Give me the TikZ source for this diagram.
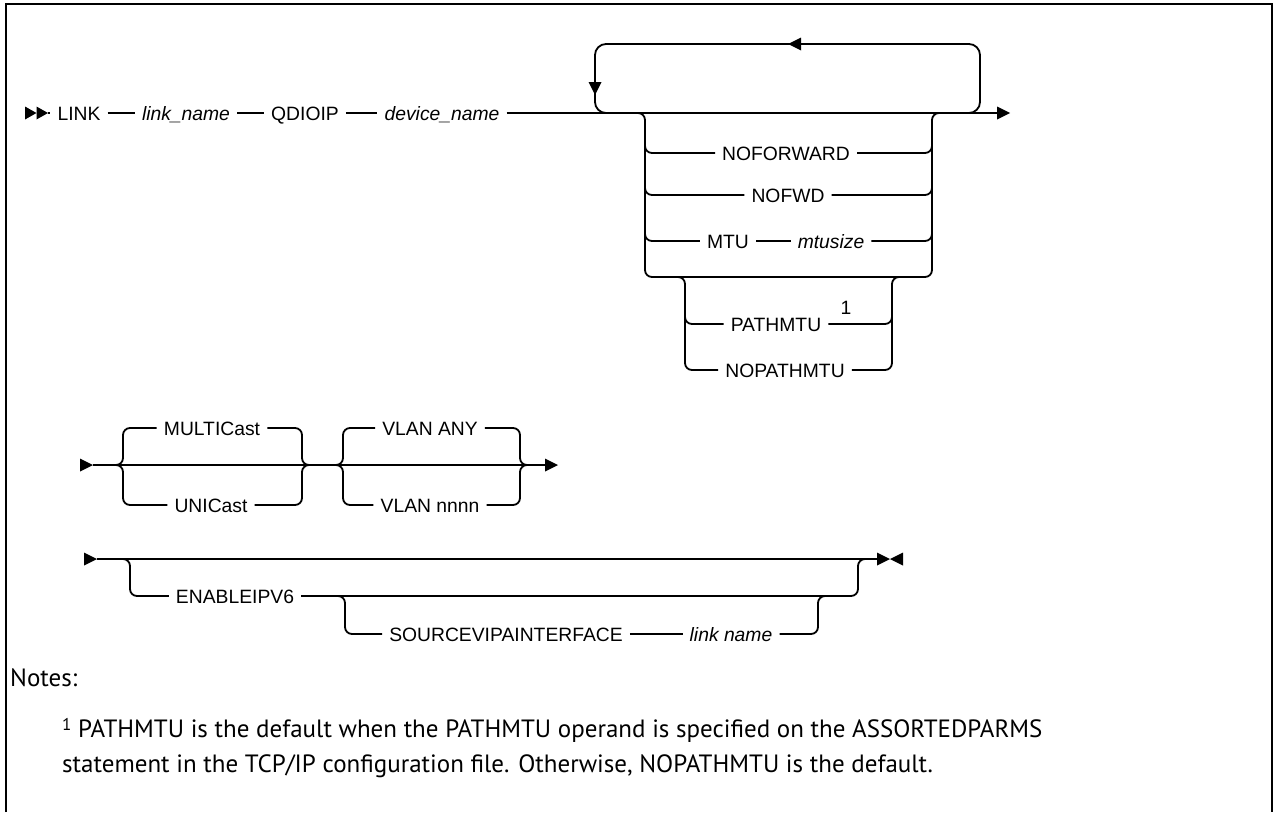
\documentclass[tikz,border=0pt]{standalone}
\usepackage{fontspec}
\setmainfont{Liberation Sans}
\newfontfamily\notefont{PT Sans}
\usetikzlibrary{calc}
\begin{document}
\begin{tikzpicture}[x=1pt,y=-1pt,
  ln/.style={line width=1.8pt},
  rr/.style={line width=1.8pt, rounded corners=7pt},
  kw/.style={font=\fontsize{19.3}{22}\selectfont, inner xsep=7pt, inner ysep=0pt, anchor=base},
  var/.style={kw, font=\fontsize{19.3}{22}\selectfont\itshape},
  notes/.style={font=\notefont\fontsize{25}{30}\selectfont, inner sep=0pt, anchor=base west}]
\useasboundingbox (0,0) rectangle (1274,812);
% frame
\draw[line width=2pt] (6,812) -- (6,4) -- (1272,4) -- (1272,812);

% ---------------- row 1 ----------------
\coordinate (r1) at (0,113);
\coordinate (s1) at (48,113);
\fill (25,106.5) -- (36.5,113) -- (25,119.5) -- cycle;
\fill (36.5,106.5) -- (48,113) -- (36.5,119.5) -- cycle;
\node[kw]  (link)  at (79,120)  {LINK};
\node[var] (lname) at (186,120) {link\_name};
\node[kw]  (qdio)  at (305,120) {QDIOIP};
\node[var] (dname) at (442,120) {device\_name};
\coordinate (e1) at (1010,113);
\draw[ln] (s1) -- (link.west |- r1);
\draw[ln] (link.east |- r1) -- (lname.west |- r1);
\draw[ln] (lname.east |- r1) -- (qdio.west |- r1);
\draw[ln] (qdio.east |- r1) -- (dname.west |- r1);
\draw[ln] (dname.east |- r1) -- (998,113);
\fill (997,106.5) -- (e1) -- (997,119.5) -- cycle;
% repeat loop
\draw[line width=1.8pt, rounded corners=11pt] (615,113) -| (595,44) -| (980,113) -- (960,113);
\fill (788,44) -- (801,37.5) -- (801,50.5) -- cycle;
\fill (595,95) -- (588.5,82) -- (601.5,82) -- cycle;
% bracket 1
\draw[rr] (630,113) -| (645,277) -| (932,113) -- (946,113);
\node[kw]  (nofor) at (786,160) {NOFORWARD};
\node[kw]  (nofwd) at (788,202) {NOFWD};
\node[kw]  (mtu)   at (728,248) {MTU};
\node[var] (msize) at (831,248) {mtusize};
\coordinate (y153) at (0,153);
\coordinate (y195) at (0,195);
\coordinate (y241) at (0,241);
\draw[rr] (645,135) |- (nofor.west |- y153);
\draw[rr] (nofor.east |- y153) -| (932,135);
\draw[rr] (645,175) |- (nofwd.west |- y195);
\draw[rr] (nofwd.east |- y195) -| (932,175);
\draw[rr] (645,220) |- (mtu.west |- y241);
\draw[ln] (mtu.east |- y241) -- (msize.west |- y241);
\draw[rr] (msize.east |- y241) -| (932,220);
% sub bracket
\node[kw] (pmtu)  at (776,331) {PATHMTU};
\node[font=\fontsize{19.3}{22}\selectfont, anchor=base] (fn1) at (846,314) {1};
\node[kw] (npmtu) at (785,377) {NOPATHMTU};
\coordinate (y324) at (0,324);
\coordinate (y370) at (0,370);
\draw[rr] (670,277) -| (685,370) -- (npmtu.west |- y370);
\draw[rr] (npmtu.east |- y370) -| (892,277) -- (906,277);
\draw[rr] (685,300) |- (pmtu.west |- y324);
\draw[rr] (pmtu.east |- y324) -| (892,300);

% ---------------- row 2 ----------------
\coordinate (r2) at (0,465);
\coordinate (s2) at (93,465);
\coordinate (e2) at (558,465);
\fill (80,458.5) -- (s2) -- (80,471.5) -- cycle;
\draw[ln] (s2) -- (546,465);
\fill (545,458.5) -- (e2) -- (545,471.5) -- cycle;
\node[kw] (multi) at (212,435) {MULTICast};
\node[kw] (uni)   at (211,512) {UNICast};
\node[kw] (vany)  at (430,435) {VLAN ANY};
\node[kw] (vnnnn) at (430,512) {VLAN nnnn};
\coordinate (y428) at (0,428);
\coordinate (y505) at (0,505);
\draw[rr] (108,465) -| (123,428) -- (multi.west |- y428);
\draw[rr] (108,465) -| (123,505) -- (uni.west |- y505);
\draw[rr] (multi.east |- y428) -| (302,465) -- (317,465);
\draw[rr] (uni.east |- y505) -| (302,465) -- (317,465);
\draw[rr] (328,465) -| (343,428) -- (vany.west |- y428);
\draw[rr] (328,465) -| (343,505) -- (vnnnn.west |- y505);
\draw[rr] (vany.east |- y428) -| (520,465) -- (535,465);
\draw[rr] (vnnnn.east |- y505) -| (520,465) -- (535,465);

% ---------------- row 3 ----------------
\coordinate (r3) at (0,559);
\coordinate (s3) at (97,559);
\coordinate (e3) at (890,559);
\fill (84,552.5) -- (s3) -- (84,565.5) -- cycle;
\draw[ln] (s3) -- (878,559);
\fill (877,552.5) -- (e3) -- (877,565.5) -- cycle;
\fill (903,552.5) -- (e3) -- (903,565.5) -- cycle;
\node[kw]  (enab) at (235,603) {ENABLEIPV6};
\node[kw]  (svi)  at (506,641) {SOURCEVIPAINTERFACE};
\node[var] (lnk)  at (731,641) {link name};
\coordinate (y596) at (0,596);
\coordinate (y634) at (0,634);
\draw[rr] (115,559) -| (130,596) -- (enab.west |- y596);
\draw[rr] (enab.east |- y596) -| (858,559) -- (872,559);
\draw[rr] (330,596) -| (345,634) -- (svi.west |- y634);
\draw[ln] (svi.east |- y634) -- (lnk.west |- y634);
\draw[rr] (lnk.east |- y634) -| (818,596) -- (832,596);

% ---------------- notes ----------------
\node[notes] (nt) at (10,686) {Notes:};
\node[notes] (n1) at (62,737) {\raisebox{0.55ex}{\fontsize{17}{20}\selectfont 1} PATHMTU is the default when the PATHMTU operand is specified on the ASSORTEDPARMS};
\node[notes] (n2) at (62,772) {statement in the TCP/IP configuration file. Otherwise, NOPATHMTU is the default.};
\end{tikzpicture}
\end{document}
